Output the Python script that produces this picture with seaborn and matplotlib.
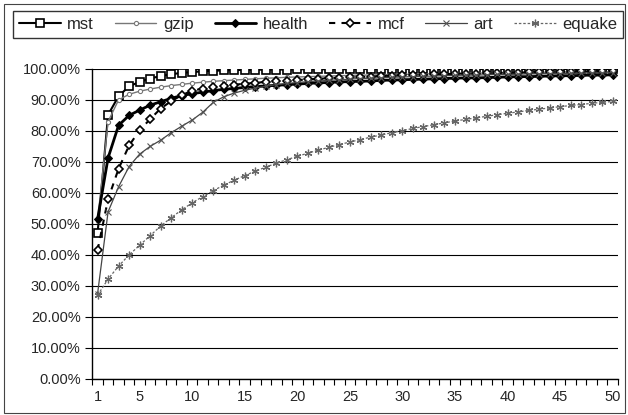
import numpy as np
import pandas as pd
import matplotlib
matplotlib.use("Agg")
import matplotlib.pyplot as plt
import seaborn as sns
from matplotlib.patches import Rectangle

positions = list(range(1, 51))
x_tick_labels = ["1", "5", "10", "15", "20", "25", "30", "35", "40", "45", "50"]
y_tick_values = [0, 10, 20, 30, 40, 50, 60, 70, 80, 90, 100]

mst = [47.0, 85.2, 91.2, 94.4, 95.8, 96.9, 97.7, 98.3, 98.7, 99.0,
       99.2, 99.4, 99.5, 99.6, 99.7, 99.7, 99.8, 99.8, 99.8, 99.9,
       99.9, 99.9, 99.9, 99.9, 99.9, 100.0, 100.0, 100.0, 100.0, 100.0,
       100.0, 100.0, 100.0, 100.0, 100.0, 100.0, 100.0, 100.0, 100.0, 100.0,
       100.0, 100.0, 100.0, 100.0, 100.0, 100.0, 100.0, 100.0, 100.0, 100.0]
gzip = [51.0, 83.0, 90.0, 91.8, 92.8, 93.5, 94.1, 94.6, 95.0, 95.4,
        95.7, 96.0, 96.2, 96.4, 96.6, 96.8, 97.0, 97.1, 97.3, 97.4,
        97.5, 97.6, 97.7, 97.8, 97.9, 98.0, 98.0, 98.1, 98.2, 98.2,
        98.3, 98.4, 98.4, 98.5, 98.5, 98.6, 98.6, 98.7, 98.7, 98.8,
        98.8, 98.8, 98.9, 98.9, 99.0, 99.0, 99.0, 99.1, 99.1, 99.1]
health = [51.5, 71.3, 81.8, 85.0, 86.7, 88.3, 89.4, 90.5, 91.4, 92.0,
          92.5, 93.0, 93.4, 93.7, 94.0, 94.3, 94.5, 94.7, 94.9, 95.1,
          95.3, 95.5, 95.6, 95.8, 95.9, 96.0, 96.1, 96.3, 96.4, 96.5,
          96.6, 96.7, 96.8, 96.9, 97.0, 97.1, 97.1, 97.2, 97.3, 97.4,
          97.5, 97.5, 97.6, 97.7, 97.8, 97.8, 97.9, 98.0, 98.0, 98.1]
mcf = [41.5, 58.0, 67.8, 75.3, 80.2, 83.8, 87.2, 89.6, 91.5, 93.0,
       93.6, 94.1, 94.5, 94.9, 95.2, 95.5, 95.8, 96.0, 96.2, 96.4,
       96.6, 96.8, 97.0, 97.1, 97.3, 97.4, 97.5, 97.7, 97.8, 97.9,
       98.0, 98.1, 98.2, 98.3, 98.4, 98.5, 98.5, 98.6, 98.7, 98.8,
       98.8, 98.9, 99.0, 99.0, 99.1, 99.1, 99.2, 99.2, 99.3, 99.3]
art = [27.5, 53.9, 62.0, 68.5, 72.5, 75.0, 77.0, 79.4, 81.5, 83.5,
       86.0, 89.2, 91.0, 92.2, 93.1, 93.8, 94.4, 94.9, 95.3, 95.6,
       95.9, 96.1, 96.3, 96.5, 96.7, 96.9, 97.0, 97.1, 97.3, 97.4,
       97.5, 97.6, 97.7, 97.8, 97.9, 98.0, 98.0, 98.1, 98.2, 98.2,
       98.3, 98.4, 98.4, 98.5, 98.5, 98.6, 98.6, 98.7, 98.7, 98.8]
equake = [27.0, 32.2, 36.4, 40.0, 43.1, 46.2, 49.3, 52.0, 54.5, 56.8,
          58.8, 60.7, 62.5, 64.1, 65.6, 67.0, 68.3, 69.6, 70.7, 71.8,
          72.8, 73.8, 74.7, 75.6, 76.4, 77.2, 78.0, 78.7, 79.4, 80.1,
          80.8, 81.4, 82.0, 82.6, 83.2, 83.7, 84.2, 84.7, 85.2, 85.7,
          86.1, 86.6, 87.0, 87.4, 87.8, 88.2, 88.5, 88.9, 89.2, 89.5]

series_names = ["mst", "gzip", "health", "mcf", "art", "equake"]
series_values = [mst, gzip, health, mcf, art, equake]

styles = {
    "mst": dict(color="black", linewidth=1.5, marker="s", markersize=5.8,
                markerfacecolor="white", markeredgecolor="black", markeredgewidth=1.2, linestyle="-"),
    "gzip": dict(color="#777777", linewidth=1.0, marker="o", markersize=3,
                 markerfacecolor="white", markeredgecolor="#777777", markeredgewidth=0.8, linestyle="-"),
    "health": dict(color="black", linewidth=2.0, marker="D", markersize=4.5,
                   markerfacecolor="black", markeredgecolor="black", linestyle="-"),
    "mcf": dict(color="black", linewidth=1.5, marker="D", markersize=4.5,
                markerfacecolor="white", markeredgecolor="black", markeredgewidth=1.2, linestyle=(0, (3, 3))),
    "art": dict(color="#444444", linewidth=0.9, marker="x", markersize=5,
                markeredgecolor="#555555", markeredgewidth=0.8, linestyle="-"),
    "equake": dict(color="#666666", linewidth=0.9, marker=(6, 2, 0), markersize=5.5,
                   markeredgecolor="#666666", markeredgewidth=0.9, linestyle=(0, (2, 1.5))),
}

sns.set_theme(style="white")
plt.rcParams["font.family"] = ["Liberation Sans", "DejaVu Sans"]

fig = plt.figure(figsize=(6.28, 4.15), dpi=100)
ax = fig.add_axes([0.147, 0.087, 0.837, 0.747])

for name, vals in zip(series_names, series_values):
    df = pd.DataFrame({"x": positions, "y": vals})
    sns.lineplot(data=df, x="x", y="y", ax=ax, label=name, **styles[name])

ax.set_xlim(0.5, 50.5)
ax.set_ylim(0, 100)
ax.set_yticks(y_tick_values)
ax.set_yticklabels([f"{v:.2f}%" for v in y_tick_values], fontsize=10.5)
ax.set_xticks([int(t) for t in x_tick_labels])
ax.set_xticklabels(x_tick_labels, fontsize=10.5)
ax.set_xticks(np.arange(0.5, 51, 1), minor=True)
ax.tick_params(axis="x", which="major", length=0, pad=8)
ax.tick_params(axis="x", which="minor", length=4, width=0.8, color="black", direction="out", bottom=True)
ax.tick_params(axis="y", which="major", length=5, width=0.8, color="black", direction="out", left=True)
ax.set_xlabel("")
ax.set_ylabel("")
ax.yaxis.grid(True, color="black", linewidth=0.8)
ax.xaxis.grid(False)
for side in ["top", "right"]:
    ax.spines[side].set_visible(False)
for side in ["left", "bottom"]:
    ax.spines[side].set_color("black")
    ax.spines[side].set_linewidth(1.0)
ax.set_axisbelow(True)

handles, labels = ax.get_legend_handles_labels()
ax.legend_.remove()
leg = fig.legend(handles, labels, loc="upper left", bbox_to_anchor=(13 / 628, 1 - 11 / 415), ncol=6,
                 fontsize=12, frameon=True, fancybox=False, handlelength=2.5,
                 handletextpad=0.4, columnspacing=1.25, borderpad=0.35, borderaxespad=0.0)
leg.get_frame().set_edgecolor("black")
leg.get_frame().set_linewidth(1.0)

fig.patches.append(Rectangle((0.006, 0.006), 0.99, 0.985, transform=fig.transFigure,
                             fill=False, edgecolor="#444444", linewidth=0.8))

fig.savefig("out.png", dpi=100)
